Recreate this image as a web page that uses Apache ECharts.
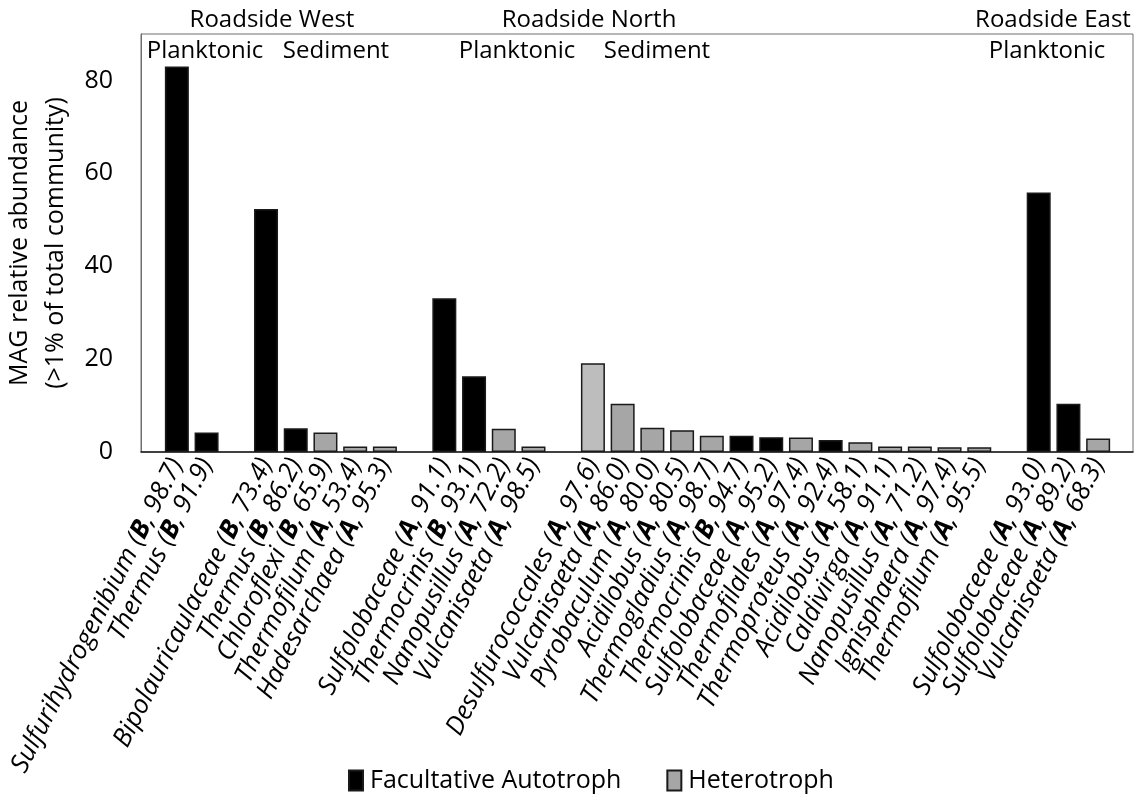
<!DOCTYPE html>
<html>
<head>
<meta charset="utf-8">
<script src="https://cdn.jsdelivr.net/npm/echarts@6/dist/echarts.min.js"></script>
<style>
  html, body { margin: 0; padding: 0; background: #ffffff; }
  #chart { width: 1142px; height: 796px; }
</style>
</head>
<body>
<div id="chart"></div>
<script>
// MAG taxa per site/fraction; empty strings are spacer slots between groups
const taxa = [
  'Sulfurihydrogenibium', 'Thermus', '',
  'Bipolauricaulaceae', 'Thermus', 'Chloroflexi', 'Thermofilum', 'Hadesarchaea', '',
  'Sulfolobaceae', 'Thermocrinis', 'Nanopusillus', 'Vulcanisaeta', '',
  'Desulfurococcales', 'Vulcanisaeta', 'Pyrobaculum', 'Acidilobus', 'Thermogladius',
  'Thermocrinis', 'Sulfolobaceae', 'Thermofilales', 'Thermoproteus', 'Acidilobus',
  'Caldivirga', 'Nanopusillus', 'Ignisphaera', 'Thermofilum', '',
  'Sulfolobaceae', 'Sulfolobaceae', 'Vulcanisaeta'
];
// Domain: B = Bacteria, A = Archaea
const domains = [
  'B', 'B', '',
  'B', 'B', 'B', 'A', 'A', '',
  'A', 'B', 'A', 'A', '',
  'A', 'A', 'A', 'A', 'A',
  'B', 'A', 'A', 'A', 'A',
  'A', 'A', 'A', 'A', '',
  'A', 'A', 'A'
];
// Genome completeness (%)
const completeness = [
  98.7, 91.9, null,
  73.4, 86.2, 65.9, 53.4, 95.3, null,
  91.1, 93.1, 72.2, 98.5, null,
  97.6, 86.0, 80.0, 80.5, 98.7,
  94.7, 95.2, 97.4, 92.4, 58.1,
  91.1, 71.2, 97.4, 95.5, null,
  93.0, 89.2, 68.3
];
// MAG relative abundance (% of community)
const abundance = [
  83.0, 4.2, null,
  52.3, 5.1, 4.2, 1.2, 1.2, null,
  33.1, 16.3, 5.0, 1.2, null,
  19.1, 10.4, 5.2, 4.7, 3.5,
  3.5, 3.2, 3.1, 2.6, 2.1,
  1.2, 1.2, 1.0, 1.0, null,
  55.9, 10.4, 2.9
];
// Metabolic lifestyle of each MAG
const lifestyle = [
  'Facultative Autotroph', 'Facultative Autotroph', null,
  'Facultative Autotroph', 'Facultative Autotroph', 'Heterotroph', 'Heterotroph', 'Heterotroph', null,
  'Facultative Autotroph', 'Facultative Autotroph', 'Heterotroph', 'Heterotroph', null,
  'Heterotroph', 'Heterotroph', 'Heterotroph', 'Heterotroph', 'Heterotroph',
  'Facultative Autotroph', 'Facultative Autotroph', 'Heterotroph', 'Facultative Autotroph', 'Heterotroph',
  'Heterotroph', 'Heterotroph', 'Heterotroph', 'Heterotroph', null,
  'Facultative Autotroph', 'Facultative Autotroph', 'Heterotroph'
];
const groups = ['Facultative Autotroph', 'Heterotroph'];
const yTicks = { min: 0, max: 90, interval: 20 };

const FONT = '"Open Sans", "Noto Sans", sans-serif';
const slots = taxa.map((t, i) => t ? i : '');

const fillFor = {
  'Facultative Autotroph': '#000000',
  'Heterotroph': '#a6a6a6'
};

function seriesFor(name) {
  return {
    name: name,
    type: 'bar',
    xAxisIndex: 1,
    yAxisIndex: 1,
    barWidth: 24,
    barGap: '-100%',
    itemStyle: { color: fillFor[name], borderColor: '#1a1a1a', borderWidth: 1.5 },
    data: abundance.map((v, i) => {
      if (lifestyle[i] !== name) return '-';
      if (taxa[i] === 'Desulfurococcales') {
        return { value: v, itemStyle: { color: '#bdbdbd' } };
      }
      return v;
    })
  };
}

const headings = [
  { text: 'Roadside West', x: 272, y: 20 },
  { text: 'Roadside North', x: 589, y: 20 },
  { text: 'Roadside East', x: 1053, y: 20 },
  { text: 'Planktonic', x: 205, y: 51 },
  { text: 'Sediment', x: 336, y: 51 },
  { text: 'Planktonic', x: 517, y: 51 },
  { text: 'Sediment', x: 657, y: 51 },
  { text: 'Planktonic', x: 1047, y: 51 }
];

const chart = echarts.init(document.getElementById('chart'), null, { renderer: 'canvas' });

chart.setOption({
  backgroundColor: '#ffffff',
  animation: false,
  textStyle: { fontFamily: FONT },
  grid: [
    // outer frame + y axis
    { left: 141, right: 9, top: 34, bottom: 344, show: true, borderColor: '#6e6e6e', borderWidth: 1,
      containLabel: false, outerBoundsMode: 'none' },
    // bar slots
    { left: 162, right: 29, top: 34, bottom: 344, containLabel: false, outerBoundsMode: 'none' }
  ],
  legend: {
    data: groups,
    left: 343,
    top: 763,
    icon: 'rect',
    itemWidth: 14,
    itemHeight: 20,
    itemGap: 45,
    textStyle: { fontSize: 25, color: '#000', fontFamily: FONT, padding: [0, 0, 0, 2] }
  },
  xAxis: [
    {
      gridIndex: 0, type: 'category', data: [''],
      axisLine: { show: true, lineStyle: { color: '#1a1a1a', width: 1.5 } },
      axisTick: { show: false }, axisLabel: { show: false }, splitLine: { show: false }
    },
    {
      gridIndex: 1, type: 'category', data: slots,
      axisLine: { show: false }, axisTick: { show: false }, splitLine: { show: false },
      axisLabel: {
        interval: 0,
        rotate: 63,
        margin: 8,
        color: '#000',
        fontSize: 26,
        fontStyle: 'italic',
        fontFamily: FONT,
        formatter: function (v, i) {
          if (!taxa[i]) return '';
          return '{n|' + taxa[i] + ' (}{b|' + domains[i] + '}{n|, ' + completeness[i].toFixed(1) + ')}';
        },
        rich: {
          n: { fontSize: 26, fontStyle: 'italic', fontFamily: FONT, color: '#000' },
          b: { fontSize: 26, fontStyle: 'italic', fontWeight: 'bold', fontFamily: FONT, color: '#000' }
        }
      }
    }
  ],
  yAxis: [
    {
      gridIndex: 0, type: 'value', min: yTicks.min, max: yTicks.max, interval: yTicks.interval,
      name: 'MAG relative abundance\n(>1% of total community)',
      nameLocation: 'middle',
      nameRotate: 90,
      nameGap: 62,
      nameTextStyle: { fontSize: 25, color: '#000', lineHeight: 36, fontFamily: FONT },
      axisLine: { show: true, lineStyle: { color: '#6e6e6e', width: 1 } },
      axisTick: { show: false },
      splitLine: { show: false },
      axisLabel: { fontSize: 25, color: '#000', margin: 28, showMaxLabel: false, fontFamily: FONT }
    },
    {
      gridIndex: 1, type: 'value', min: yTicks.min, max: yTicks.max, interval: yTicks.interval,
      show: false, splitLine: { show: false }
    }
  ],
  graphic: headings.map(h => ({
    type: 'text',
    x: h.x,
    y: h.y,
    style: {
      text: h.text,
      fontSize: 24,
      fontFamily: FONT,
      fill: '#000',
      align: 'center',
      verticalAlign: 'middle'
    }
  })),
  series: groups.map(seriesFor)
});
</script>
</body>
</html>
